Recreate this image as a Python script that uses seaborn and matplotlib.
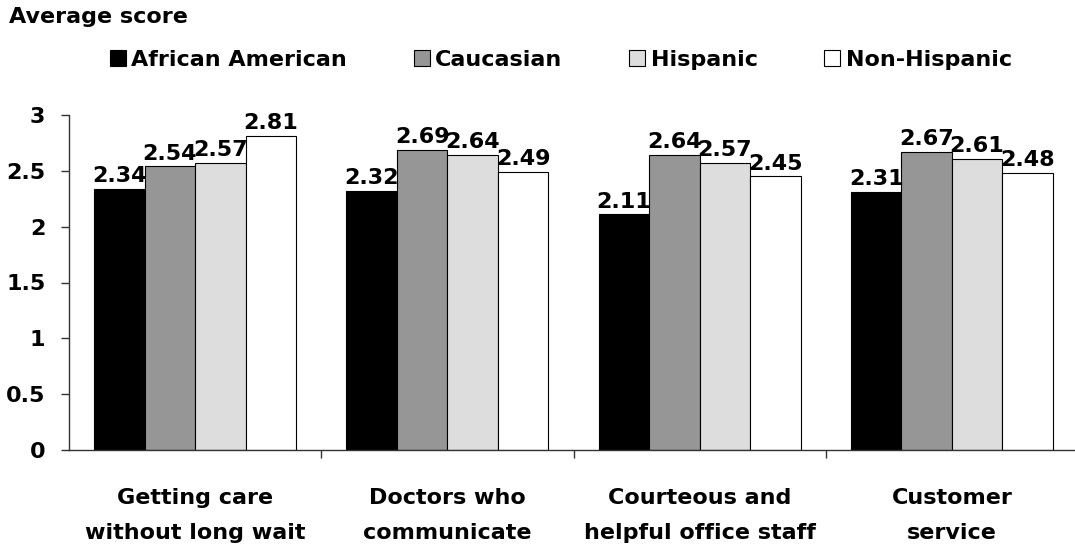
import pandas as pd
import matplotlib
matplotlib.use("Agg")
import matplotlib.pyplot as plt
import seaborn as sns
from matplotlib.patches import Patch

# datos
categories = ["Getting care\nwithout long wait", "Doctors who\ncommunicate",
              "Courteous and\nhelpful office staff", "Customer\nservice"]
groups = ["African American", "Caucasian", "Hispanic", "Non-Hispanic"]
african_american = [2.34, 2.32, 2.11, 2.31]
caucasian = [2.54, 2.69, 2.64, 2.67]
hispanic = [2.57, 2.64, 2.57, 2.61]
non_hispanic = [2.81, 2.49, 2.45, 2.48]
colors = ["#000000", "#969696", "#DDDDDD", "#FFFFFF"]
yticks = [0, 0.5, 1, 1.5, 2, 2.5, 3]

series = [african_american, caucasian, hispanic, non_hispanic]
df = pd.DataFrame({
    "Category": [c for s in series for c in categories],
    "Group": [g for g, s in zip(groups, series) for _ in s],
    "Score": [v for s in series for v in s],
})

sns.set_style("white")
plt.rcParams["font.family"] = ["DejaVu Sans"]
plt.rcParams["font.weight"] = "bold"
plt.rcParams["text.color"] = "black"
plt.rcParams["xtick.color"] = "black"
plt.rcParams["ytick.color"] = "black"
FS = 16

fig = plt.figure(figsize=(10.75, 5.45), dpi=100)
# el eje llega un poco mas alla del borde derecho, como en el original
ax = fig.add_axes([69 / 1075, 1 - 450 / 545, (1078 - 69) / 1075, (450 - 115) / 545])

sns.barplot(data=df, x="Category", y="Score", hue="Group", hue_order=groups,
            order=categories, palette=colors, edgecolor="black", linewidth=0.8,
            legend=False, ax=ax)

for cont in ax.containers:
    ax.bar_label(cont, fmt="%.2f", padding=2, fontsize=FS, fontweight="bold")

ax.set_ylim(0, 3)
ax.set_xlim(-0.5, 3.5)
ax.set_yticks(yticks)
ax.set_yticklabels([f"{t:g}" for t in yticks], fontsize=FS, fontweight="bold")
ax.set_xticks(range(len(categories)))
ax.set_xticklabels(categories, fontsize=FS, fontweight="bold", linespacing=1.95)
ax.set_xticks([0.5, 1.5, 2.5], minor=True)
ax.tick_params(axis="x", which="major", length=0, pad=27)
ax.tick_params(axis="x", which="minor", length=6, width=1, color="#333333", direction="out", bottom=True)
ax.tick_params(axis="y", length=6, width=1, color="#333333", direction="out", left=True, pad=11)
ax.set_xlabel("")
ax.set_ylabel("")
sns.despine(ax=ax)
for sp in ["left", "bottom"]:
    ax.spines[sp].set_color("#333333")
    ax.spines[sp].set_linewidth(1)

fig.text(9 / 1075, 1 - 17 / 545, "Average score", ha="left", va="center",
         fontsize=FS, fontweight="bold")

handles = [Patch(facecolor=c, edgecolor="black", linewidth=0.8, label=g)
           for g, c in zip(groups, colors)]
fig.legend(handles=handles, loc="center", ncol=4, bbox_to_anchor=(561 / 1075, 1 - 60 / 545),
           frameon=False, borderpad=0, borderaxespad=0, handlelength=0.72,
           handleheight=0.72, handletextpad=0.25, columnspacing=3.0,
           prop={"size": FS, "weight": "bold"})

fig.savefig("out.png", dpi=100)
